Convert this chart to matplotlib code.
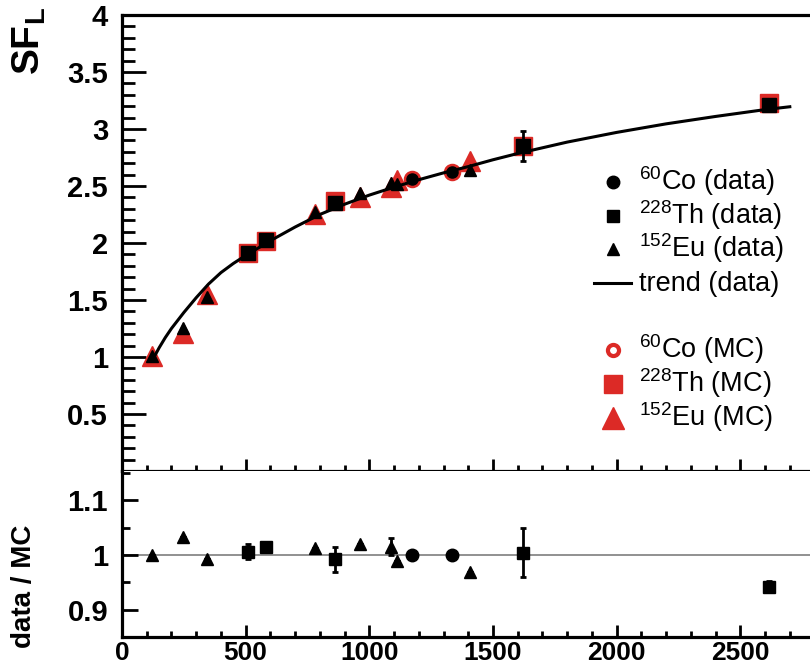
import numpy as np
import matplotlib
matplotlib.use('Agg')
import matplotlib.pyplot as plt
from matplotlib.ticker import MultipleLocator, FormatStrFormatter

plt.rcParams['font.family'] = ['Liberation Sans', 'DejaVu Sans']
plt.rcParams['mathtext.fontset'] = 'custom'
plt.rcParams['mathtext.rm'] = 'Liberation Sans'
plt.rcParams['mathtext.it'] = 'Liberation Sans:italic'
plt.rcParams['mathtext.bf'] = 'Liberation Sans:bold'

# energies in keV
co_E = [1173.2, 1332.5]
co_data = [2.56, 2.62]
co_mc = [2.56, 2.62]
co_ratio = [1.000, 1.000]

th_E = [510.8, 583.2, 860.6, 1620.5, 2614.5]
th_data = [1.91, 2.03, 2.35, 2.85, 3.21]
th_err = [0.02, 0.02, 0.03, 0.13, 0.03]
th_mc = [1.91, 2.02, 2.37, 2.85, 3.23]
th_ratio = [1.006, 1.015, 0.992, 1.004, 0.942]
th_ratio_err = [0.014, 0.0, 0.023, 0.045, 0.01]

eu_E = [121.8, 244.7, 344.3, 778.9, 964.1, 1085.8, 1112.1, 1408.0]
eu_data = [1.01, 1.25, 1.53, 2.27, 2.44, 2.53, 2.52, 2.64]
eu_mc = [1.01, 1.21, 1.55, 2.25, 2.40, 2.49, 2.55, 2.72]
eu_ratio = [1.000, 1.033, 0.993, 1.013, 1.020, 1.015, 0.988, 0.969]
eu_ratio_err = [0.0, 0.0, 0.0, 0.0, 0.0, 0.016, 0.0, 0.0]

# trend curve
trend_E = [130, 150, 175, 200, 225, 250, 300, 350, 400, 450, 500, 600, 700,
           800, 900, 1000, 1100, 1200, 1300, 1400, 1500, 1600, 1800, 2000,
           2200, 2400, 2600, 2700]
trend_v = [1.00, 1.08, 1.17, 1.25, 1.32, 1.39, 1.52, 1.64, 1.74, 1.82, 1.89,
           2.02, 2.14, 2.25, 2.34, 2.42, 2.49, 2.555, 2.615, 2.67, 2.73, 2.785,
           2.885, 2.97, 3.045, 3.11, 3.17, 3.195]

red = '#dc2a26'

fig = plt.figure(figsize=(8.1, 6.69), dpi=100)
ax = fig.add_axes([0.1506, 0.296, 0.855, 0.6816])
ax2 = fig.add_axes([0.1506, 0.0478, 0.855, 0.248])

# top panel: MC underneath, trend, then data
ax.plot(th_E, th_mc, 's', color=red, ms=13, zorder=2)
ax.plot(eu_E, eu_mc, '^', color=red, ms=15, zorder=2)
ax.plot(co_E, co_mc, 'o', mfc='white', mec=red, ms=10, mew=2.6, zorder=2)
ax.plot(trend_E, trend_v, '-', color='black', lw=2.2, zorder=3)
ax.errorbar(th_E, th_data, yerr=th_err, fmt='s', color='black', ms=9.5,
            elinewidth=2, capsize=2, capthick=2, zorder=4)
ax.plot(eu_E, eu_data, '^', color='black', ms=9, zorder=4)
ax.plot(co_E, co_data, 'o', color='black', ms=8, zorder=4)

# bottom panel: data / MC
ax2.axhline(1, color='#888888', lw=1.3, zorder=1)
ax2.errorbar(th_E, th_ratio, yerr=th_ratio_err, fmt='s', color='black', ms=9,
             elinewidth=2, capsize=2, capthick=2, zorder=3)
ax2.errorbar(eu_E, eu_ratio, yerr=eu_ratio_err, fmt='^', color='black', ms=9,
             elinewidth=2, capsize=2, capthick=2, zorder=3)
ax2.plot(co_E, co_ratio, 'o', color='black', ms=9, zorder=3)

for a in (ax, ax2):
    a.set_xlim(0, 2800)
    a.xaxis.set_major_locator(MultipleLocator(500))
    a.xaxis.set_minor_locator(MultipleLocator(100))
    a.yaxis.set_major_formatter(FormatStrFormatter('%g'))
    for s in a.spines.values():
        s.set_linewidth(2.3)
    a.spines['right'].set_visible(False)

ax.set_ylim(0, 4)
ax.yaxis.set_minor_locator(MultipleLocator(0.1))
ax.set_yticks([0.5, 1, 1.5, 2, 2.5, 3, 3.5, 4])
ax.tick_params(axis='y', which='major', direction='in', length=17, width=2, pad=10,
               labelsize=21)
ax.tick_params(axis='y', which='minor', direction='in', length=9, width=2)
ax.tick_params(axis='x', which='major', direction='in', length=8.5, width=2,
               labelbottom=False)
ax.tick_params(axis='x', which='minor', direction='in', length=4.5, width=2)

ax2.set_ylim(0.85, 1.153)
ax2.set_yticks([0.9, 1.0, 1.1])
ax2.yaxis.set_minor_locator(MultipleLocator(0.05))
ax2.tick_params(axis='y', which='major', direction='in', length=11.5, width=2, pad=10,
                labelsize=21)
ax2.tick_params(axis='y', which='minor', direction='in', length=6, width=2)
ax2.tick_params(axis='x', which='major', direction='in', length=8.5, width=2, pad=3,
                labelsize=19)
ax2.tick_params(axis='x', which='minor', direction='in', length=4.5, width=2)
ax2.spines['top'].set_visible(False)

for a in (ax, ax2):
    for lab in a.get_xticklabels() + a.get_yticklabels():
        lab.set_fontweight('bold')

fig.text(0.036, 0.99, r'SF$_{\mathbf{L}}$', rotation=90, ha='center', va='top',
         fontsize=28, fontweight='bold')
fig.text(0.03, 0.123, 'data / MC', rotation=90, ha='center', va='center',
         fontsize=20, fontweight='bold')


# hand-made legend
def legend_entry(y, label, **kw):
    if kw.pop('line', False):
        ax.plot([0.681, 0.7345], [y, y], transform=ax.transAxes, color='black',
                lw=2.2, clip_on=False)
    else:
        ax.plot([0.7085], [y], transform=ax.transAxes, linestyle='none',
                clip_on=False, **kw)
    ax.text(0.746, y - 0.018, label, transform=ax.transAxes, fontsize=19.5,
            ha='left', va='baseline')


legend_entry(0.634, r'$^{60}$Co (data)', marker='o', color='black', ms=9)
legend_entry(0.559, r'$^{228}$Th (data)', marker='s', color='black', ms=9)
legend_entry(0.487, r'$^{152}$Eu (data)', marker='^', color='black', ms=9)
legend_entry(0.412, 'trend (data)', line=True)
legend_entry(0.265, r'$^{60}$Co (MC)', marker='o', mfc='white', mec=red, ms=8, mew=3)
legend_entry(0.191, r'$^{228}$Th (MC)', marker='s', color=red, ms=13)
legend_entry(0.116, r'$^{152}$Eu (MC)', marker='^', color=red, ms=16)

fig.savefig('out.png', dpi=100)
